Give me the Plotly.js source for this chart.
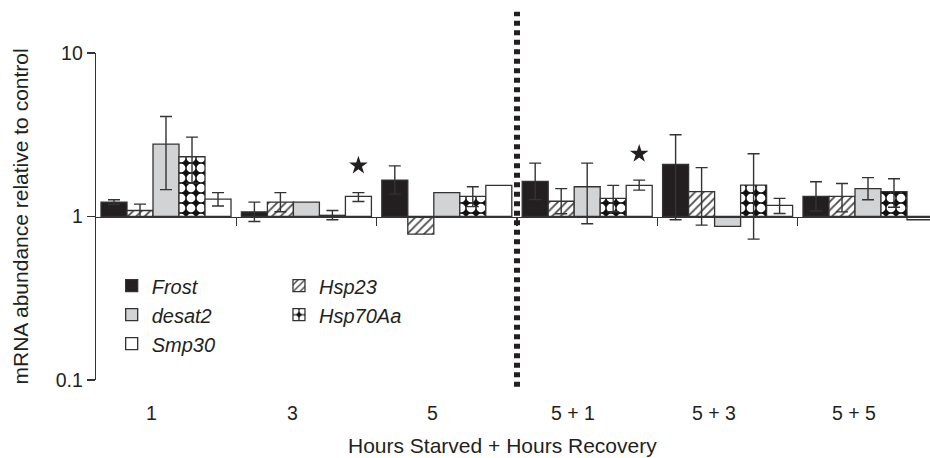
<!DOCTYPE html>
<html>
<head>
<meta charset="utf-8">
<script src="https://cdn.plot.ly/plotly-3.0.1.min.js"></script>
<style>html,body{margin:0;padding:0;background:#fff;}#chart{width:930px;height:458px;}</style>
</head>
<body>
<div id="chart"></div>
<script>
// ---- data (relative mRNA abundance) ----
var groups = ['1', '3', '5', '5 + 1', '5 + 3', '5 + 5'];

var frost    = [1.225, 1.068, 1.67, 1.64, 2.08, 1.326];
var frostUp  = [1.265, 1.225, 2.04, 2.12, 3.16, 1.63];
var frostLo  = [1.185, 0.932, 1.37, 1.27, 0.955, 1.08];

var hsp23    = [1.088, 1.225, 0.78, 1.24, 1.42, 1.326];
var hsp23Up  = [1.19, 1.40, null, 1.48, 1.99, 1.59];
var hsp23Lo  = [0.995, 1.07, null, 1.04, 0.886, 1.068];

var desat2   = [2.77, 1.225, 1.40, 1.52, 0.869, 1.48];
var desat2Up = [4.09, null, null, 2.12, null, 1.73];
var desat2Lo = [1.46, null, null, 0.902, null, 1.265];

var hsp70    = [2.32, 1.017, 1.326, 1.29, 1.556, 1.42];
var hsp70Up  = [3.06, 1.088, 1.52, 1.55, 2.42, 1.70];
var hsp70Lo  = [1.60, 0.955, 1.15, 1.07, 0.727, 1.14];

var smp30    = [1.278, 1.326, 1.55, 1.55, 1.168, 0.955];
var smp30Up  = [1.40, 1.40, null, 1.67, 1.29, null];
var smp30Lo  = [1.16, 1.235, null, 1.45, 1.043, null];

// significance stars: group and height (value) of the star
var starGroups = ['3', '5 + 1'];
var starValues = [2.05, 2.42];

var yTickVals = [0.1, 1, 10];
var yTickText = ['0.1', '1', '10'];
var xTitle = 'Hours Starved + Hours Recovery';
var yTitle = 'mRNA abundance relative to control';

// ---- build ----
var FONT = 'Liberation Sans, Arial, Helvetica, sans-serif';
var INK = '#231f20';
var OUT = '#333333';
var xs = groups.map(function (g, i) { return i; });
var BARGAP = 0.074;
var nSeries = 5;
var barW = (1 - BARGAP) / nSeries;

function errs(vals, up, lo) {
  return {
    type: 'data', symmetric: false,
    array: vals.map(function (v, i) { return up[i] == null ? NaN : up[i] - v; }),
    arrayminus: vals.map(function (v, i) { return lo[i] == null ? NaN : v - lo[i]; }),
    color: OUT, thickness: 1.4, width: 6
  };
}

function barTrace(name, vals, up, lo, marker, legend) {
  return {
    type: 'bar', name: name, x: xs,
    y: vals.map(function (v) { return v - 1; }),
    base: 1,
    marker: Object.assign({ line: { color: OUT, width: 1.3 } }, marker),
    error_y: errs(vals, up, lo),
    legend: legend,
    textposition: 'none',
    hoverinfo: 'skip'
  };
}

var traces = [
  barTrace('Frost', frost, frostUp, frostLo, { color: INK }, 'legend'),
  barTrace('Hsp23', hsp23, hsp23Up, hsp23Lo,
    { color: 'white', pattern: { shape: '/', fgcolor: '#4a4a4a', bgcolor: 'white', size: 6, solidity: 0.3 } }, 'legend2'),
  barTrace('desat2', desat2, desat2Up, desat2Lo, { color: '#d1d3d4' }, 'legend'),
  barTrace('Hsp70Aa', hsp70, hsp70Up, hsp70Lo,
    { color: '#111', pattern: { shape: '.', fgcolor: 'white', bgcolor: '#111111', size: 10, solidity: 0.6 } }, 'legend2'),
  barTrace('Smp30', smp30, smp30Up, smp30Lo, { color: 'white' }, 'legend')
];

// stars above the Smp30 bar (last series) of their groups
var smpOffset = (nSeries - 1 - (nSeries - 1) / 2) * barW;
traces.push({
  type: 'scatter', mode: 'markers', showlegend: false, hoverinfo: 'skip',
  x: starGroups.map(function (g) { return groups.indexOf(g) + smpOffset; }),
  y: starValues,
  marker: { symbol: 'star', size: 14, color: INK, line: { width: 0 } }
});

var nG = groups.length;
var boundaries = [];
for (var i = 0; i < nG - 1; i++) boundaries.push(i + 0.5);

var annotations = groups.map(function (g, i) {
  return {
    text: g, x: i - 0.1, xref: 'x', y: -0.101, yref: 'paper',
    xanchor: 'center', yanchor: 'middle', showarrow: false,
    font: { family: FONT, size: 19.5, color: INK }
  };
});
annotations.push({
  text: xTitle, x: 0.4878, xref: 'paper', y: -0.201, yref: 'paper',
  xanchor: 'center', yanchor: 'middle', showarrow: false,
  font: { family: FONT, size: 21, color: INK }
});
annotations.push({
  text: yTitle, x: -0.0911, xref: 'paper', y: 0.5, yref: 'paper',
  xanchor: 'center', yanchor: 'middle', showarrow: false, textangle: -90,
  font: { family: FONT, size: 21, color: INK }
});

var layout = {
  width: 930, height: 458,
  margin: { l: 96, r: 0, t: 53, b: 78 },
  paper_bgcolor: 'white', plot_bgcolor: 'white',
  font: { family: FONT, color: INK },
  barmode: 'group', bargap: BARGAP, bargroupgap: 0,
  xaxis: {
    range: [-0.4986, nG - 0.5584],
    anchor: 'free', position: 0.5,
    showline: true, linecolor: OUT, linewidth: 1.3,
    tickmode: 'array', tickvals: boundaries, ticks: 'outside', ticklen: 8,
    tickwidth: 1.3, tickcolor: OUT,
    showticklabels: false, showgrid: false, zeroline: false, fixedrange: true
  },
  yaxis: {
    type: 'log', range: [-1, 1],
    tickmode: 'array', tickvals: yTickVals, ticktext: yTickText,
    ticks: 'outside', ticklen: 8, tickwidth: 1.3, tickcolor: OUT,
    showline: true, linecolor: OUT, linewidth: 1.3,
    showgrid: false, zeroline: false,
    tickfont: { family: FONT, size: 19.5, color: INK }
  },
  shapes: [{
    type: 'line', xref: 'x', yref: 'paper',
    x0: boundaries[2], x1: boundaries[2], y0: -0.021, y1: 1.126,
    line: { color: INK, width: 6, dash: '5px,4.5px' }, layer: 'above'
  }],
  annotations: annotations,
  legend: {
    x: 0.0188, y: 0.348, xanchor: 'left', yanchor: 'top',
    bgcolor: 'rgba(0,0,0,0)', borderwidth: 0,
    font: { family: FONT, size: 20, color: INK, style: 'italic' },
    traceorder: 'normal'
  },
  legend2: {
    x: 0.2194, y: 0.348, xanchor: 'left', yanchor: 'top',
    bgcolor: 'rgba(0,0,0,0)', borderwidth: 0,
    font: { family: FONT, size: 20, color: INK, style: 'italic' },
    traceorder: 'normal'
  },
  showlegend: true
};

Plotly.newPlot('chart', traces, layout, { displayModeBar: false, staticPlot: true });
</script>
</body>
</html>
